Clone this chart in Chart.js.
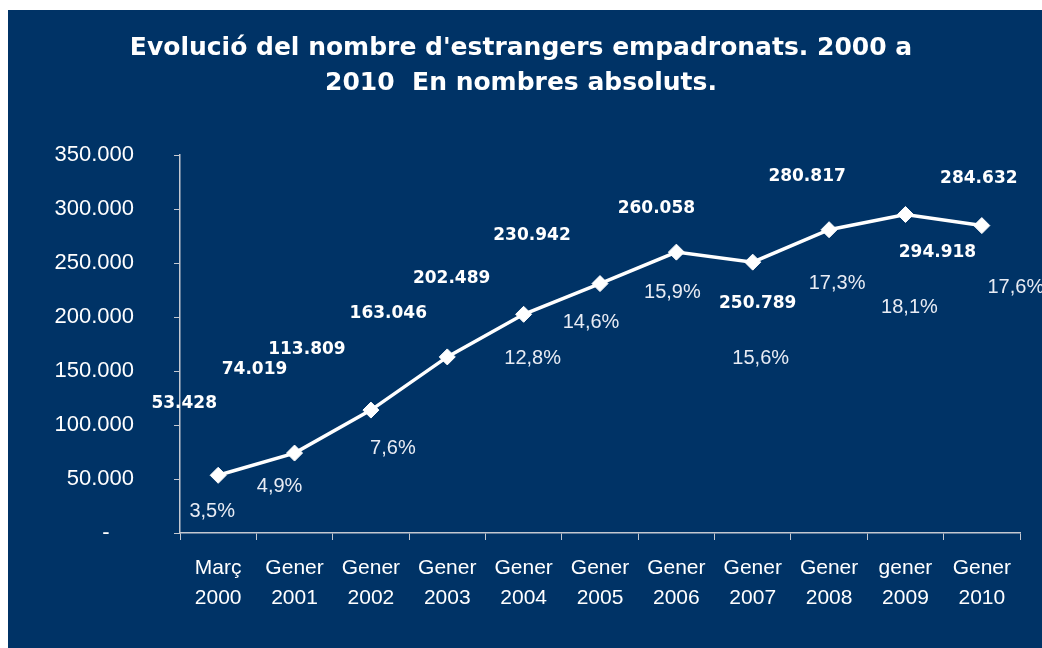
<!DOCTYPE html>
<html>
<head>
<meta charset="utf-8">
<script src="https://cdn.jsdelivr.net/npm/chart.js@4/dist/chart.umd.min.js"></script>
<style>
    html, body { margin: 0; padding: 0; background: #ffffff; }
    #wrap { width: 1042px; height: 648px; position: relative; }
</style>
</head>
<body>
<div id="wrap"><canvas id="chart"></canvas></div>
<script>
const categories = [
    ['Març', '2000'], ['Gener', '2001'], ['Gener', '2002'], ['Gener', '2003'],
    ['Gener', '2004'], ['Gener', '2005'], ['Gener', '2006'], ['Gener', '2007'],
    ['Gener', '2008'], ['gener', '2009'], ['Gener', '2010']
];
const foreigners = [53428, 74019, 113809, 163046, 202489, 230942, 260058, 250789, 280817, 294918, 284632];
const sharePct = [3.5, 4.9, 7.6, null, 12.8, 14.6, 15.9, 15.6, 17.3, 18.1, 17.6];
const titleLines = ["Evolució del nombre d'estrangers empadronats. 2000 a", '2010  En nombres absoluts.'];

// where each label sits, relative to its point (manual placement, as in the original)
const valueOffsets = [[-34, -72], [-40, -83], [-64, -61], [-59, -43], [-72, -36], [-68, -48],
    [-20, -44], [5, 41], [-22, -53], [32, 38], [-3, -47]];
const pctOffsets = [[-6, 36], [-15, 33], [22, 38], null, [9, 44], [-9, 39],
    [-4, 40], [8, 96], [8, 54], [4, 93], [34, 62]];

const BG = '#003366';
const AXIS = '#c4c8d0';

function fmtThousands(n) {
    return String(Math.round(n)).replace(/\B(?=(\d{3})+(?!\d))/g, '.');
}

const panelPlugin = {
    id: 'panel',
    beforeDraw(chart) {
        const c = chart.ctx;
        c.save();
        c.fillStyle = BG;
        c.fillRect(8, 10, chart.width - 8, chart.height - 10);
        c.fillStyle = '#ffffff';
        c.font = 'bold 25px "DejaVu Sans"';
        c.textAlign = 'center';
        c.textBaseline = 'middle';
        c.fillText(titleLines[0], chart.width / 2, 48);
        c.fillText(titleLines[1], chart.width / 2, 83);
        c.restore();
    }
};

const labelsPlugin = {
    id: 'pointLabels',
    afterDatasetsDraw(chart) {
        const c = chart.ctx;
        const pts = chart.getDatasetMeta(0).data;
        c.save();
        c.textAlign = 'center';
        c.textBaseline = 'middle';
        pts.forEach((p, i) => {
            const vo = valueOffsets[i];
            c.fillStyle = '#ffffff';
            c.font = 'bold 17px "DejaVu Sans"';
            c.fillText(fmtThousands(foreigners[i]), p.x + vo[0], p.y + vo[1]);
            if (sharePct[i] !== null && pctOffsets[i]) {
                const po = pctOffsets[i];
                c.fillStyle = '#e8ecf4';
                c.font = '20px "Liberation Sans"';
                c.fillText(sharePct[i].toFixed(1).replace('.', ',') + '%', p.x + po[0], p.y + po[1]);
            }
        });
        c.restore();
    }
};

new Chart(document.getElementById('chart'), {
    type: 'line',
    data: {
        labels: categories,
        datasets: [{
            label: 'Estrangers',
            data: foreigners,
            borderColor: '#ffffff',
            borderWidth: 3.5,
            pointStyle: 'rectRot',
            pointRadius: 8,
            pointBackgroundColor: '#ffffff',
            pointBorderColor: '#ffffff',
            pointBorderWidth: 1,
            tension: 0
        }]
    },
    options: {
        responsive: true,
        maintainAspectRatio: false,
        animation: false,
        layout: { padding: { left: 0, top: 155, right: 22, bottom: 0 } },
        plugins: {
            legend: { display: false },
            tooltip: { enabled: false }
        },
        scales: {
            x: {
                offset: true,
                grid: { display: true, offset: true, drawOnChartArea: false, tickLength: 7, color: AXIS, lineWidth: 1 },
                border: { display: true, color: AXIS, width: 1.5 },
                ticks: {
                    color: '#ffffff',
                    font: { family: 'Liberation Sans', size: 21, lineHeight: 1.42 },
                    padding: 13,
                    maxRotation: 0,
                    autoSkip: false
                },
                afterFit(s) { s.height = 115; }
            },
            y: {
                min: 0,
                max: 350000,
                grid: { display: true, drawOnChartArea: false, tickLength: 6, color: AXIS, lineWidth: 1 },
                border: { display: true, color: AXIS, width: 1.5 },
                ticks: {
                    stepSize: 50000,
                    color: '#ffffff',
                    font: { family: 'Liberation Sans', size: 22 },
                    padding: 40,
                    callback: v => v === 0 ? '-    ' : fmtThousands(v)
                },
                afterFit(s) { s.width = 180; }
            }
        }
    },
    plugins: [panelPlugin, labelsPlugin]
});
</script>
</body>
</html>
